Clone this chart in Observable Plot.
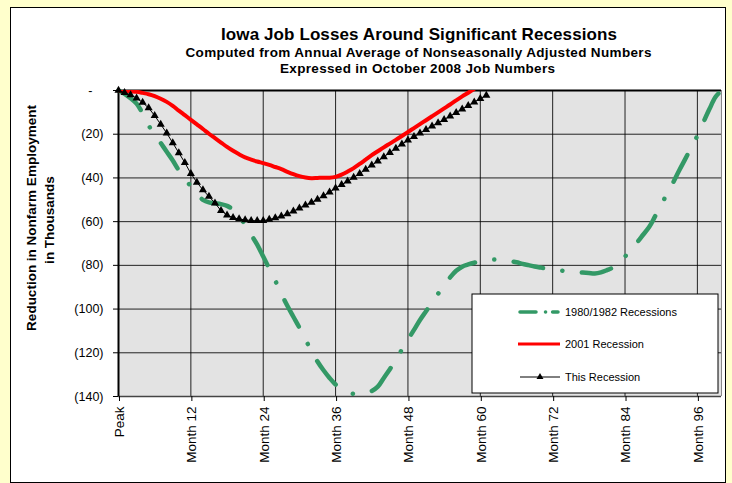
<!DOCTYPE html>
<html>
<head>
<meta charset="utf-8">
<script src="https://cdn.jsdelivr.net/npm/d3@7"></script>
<script src="https://cdn.jsdelivr.net/npm/@observablehq/plot@0.6"></script>
<style>
  html, body { margin: 0; padding: 0; background: #FFFFCC; }
  #wrap { position: relative; width: 732px; height: 483px; overflow: hidden; }
  #box { position: absolute; left: 10px; top: 7px; width: 714px; height: 474px; background: #fff; border: 1px solid #000; }
  #chart { position: absolute; left: 0; top: 0; }
  #overlay { position: absolute; left: 0; top: 0; }
</style>
</head>
<body>
<div id="wrap">
  <div id="box"></div>
  <div id="chart"></div>
  <svg id="overlay" width="732" height="483" font-family="Liberation Sans, Arial, sans-serif"></svg>
</div>
<script>
// ---- Data (thousands of jobs, relative to peak; index = months after peak) ----
const seriesNames = ["1980/1982 Recessions", "2001 Recession", "This Recession"];

const rec1980 = [
  0, -1.5, -3.5, -6, -10.5, -16, -20, -24, -28, -32,
  -36.5, -40, -44, -47.5, -50, -51.2, -51.6, -52, -52.8, -54.5,
  -57.5, -61.5, -66, -70.5, -76, -81.5, -87, -93, -98.5, -103.5,
  -108.5, -114, -119, -124, -128, -131.5, -134.5, -136.5, -138, -138.8,
  -139, -138.5, -137.5, -135.5, -131.5, -127.5, -123.3, -118.5, -114, -109.5,
  -105, -101, -97, -93, -89, -85.5, -82.5, -80.6, -79.6, -78.8,
  -78.2, -77.6, -77.3, -77.4, -77.8, -78.1, -78.6, -79.3, -79.9, -80.5,
  -81, -81.5, -81.9, -82.2, -82.6, -82.9, -83.1, -83.3, -83.5, -83.7,
  -83.2, -82.2, -81, -78.8, -76, -72.5, -69.5, -66, -62.5, -57.5,
  -52.4, -47, -42, -36.5, -31.3, -26, -20.7, -14.5, -8.5, -3, 0
];

const rec2001 = [
  0, -0.2, -0.4, -0.6, -1.1, -1.7, -2.6, -3.8, -5.2, -7,
  -9.2, -11.3, -13.4, -15.5, -17.6, -19.8, -21.8, -23.8, -25.8, -27.6,
  -29.2, -30.6, -31.6, -32.5, -33.2, -34, -35, -36, -37.2, -38.3,
  -39.2, -39.8, -40.1, -40, -39.9, -39.9, -39.5, -38.5, -37.1, -35.5,
  -33.6, -31.6, -29.6, -27.8, -26, -24.3, -22.6, -20.8, -19, -17.2,
  -15.4, -13.6, -11.8, -10, -8.2, -6.4, -4.5, -2.7, -1, 0.8
];

const recThis = [
  0, -1, -2, -3.5, -5.5, -8, -11.5, -15.5, -19.5, -24,
  -28.5, -33, -38, -42, -45.5, -48.5, -51.5, -55, -57, -58.2,
  -58.8, -59.2, -59.5, -59.6, -59.6, -59, -58.3, -57.5, -56.5, -55.2,
  -53.8, -52.5, -51.2, -49.8, -48.2, -46.5, -44.7, -43.1, -41.5, -39.8,
  -38, -36.1, -34.2, -32.3, -30.4, -28.4, -26.5, -24.6, -22.7, -21.1,
  -19.5, -17.9, -16.3, -14.8, -13.3, -11.7, -10.1, -8.5, -6.9, -5.3,
  -3.7, -2.2
];

const xTickMonths = [0, 12, 24, 36, 48, 60, 72, 84, 96];
const xTickLabels = ["Peak", "Month 12", "Month 24", "Month 36", "Month 48", "Month 60", "Month 72", "Month 84", "Month 96"];
const yTickValues = [0, -20, -40, -60, -80, -100, -120, -140];
const yTickLabels = ["-", "(20)", "(40)", "(60)", "(80)", "(100)", "(120)", "(140)"];

const titleText = "Iowa Job Losses Around Significant Recessions";
const subtitle1 = "Computed from Annual Average of Nonseasonally Adjusted Numbers";
const subtitle2 = "Expressed in October 2008 Job Numbers";
const yLabel1 = "Reduction in Nonfarm Employment";
const yLabel2 = "in Thousands";

// ---- Build tables ----
const toRows = arr => arr.map((v, i) => ({month: i, value: v}));
const d1980 = toRows(rec1980);
const d2001 = toRows(rec2001);
const dThis = toRows(recThis);

const colors = {green: "#339966", red: "#FF0000", black: "#000000"};
const font = "Liberation Sans, Arial, sans-serif";

const xFmt = d => xTickLabels[xTickMonths.indexOf(d)];
const yFmt = d => yTickLabels[yTickValues.indexOf(d)];

const chart = Plot.plot({
  width: 732,
  height: 483,
  marginLeft: 118,
  marginRight: 11,
  marginTop: 90,
  marginBottom: 87,
  style: {background: "transparent", fontFamily: font, color: "#000", overflow: "visible"},
  x: {domain: [0, 100]},
  y: {domain: [-140, 0]},
  marks: [
    Plot.frame({fill: "#e3e3e3", stroke: "none"}),
    Plot.gridY(yTickValues, {stroke: "#000", strokeOpacity: 0.85, strokeWidth: 1}),
    Plot.gridX(xTickMonths, {stroke: "#000", strokeOpacity: 0.85, strokeWidth: 1}),
    Plot.ruleY([0], {stroke: "#000", strokeWidth: 2}),
    Plot.ruleY([-140], {stroke: "#444", strokeWidth: 1.5}),
    Plot.ruleX([100], {stroke: "#888", strokeWidth: 1}),
    Plot.ruleX([0], {stroke: "#000", strokeWidth: 2}),
    Plot.axisX({ticks: xTickMonths, tickFormat: xFmt, tickRotate: -90, tickSize: 5, tickPadding: 5, fontSize: 13.5, label: null, dx: 1}),
    Plot.axisY({ticks: yTickValues.filter(d => d !== 0), tickFormat: yFmt, tickSize: 5, tickPadding: 10, fontSize: 12.5, label: null}),
    Plot.axisY({ticks: [0], tickFormat: yFmt, tickSize: 5, tickPadding: 21, fontSize: 12.5, label: null}),
    Plot.line(d1980, {x: "month", y: "value", stroke: colors.green, strokeWidth: 4.5, strokeLinecap: "round", strokeDasharray: "30,19.5,0.1,19.5", curve: "catmull-rom"}),
    Plot.line(d2001, {x: "month", y: "value", stroke: colors.red, strokeWidth: 4, curve: "catmull-rom", clip: true}),
    Plot.line(dThis, {x: "month", y: "value", stroke: colors.black, strokeWidth: 1}),
    Plot.dot(dThis, {x: "month", y: "value", symbol: "triangle", r: 3, fill: colors.black})
  ]
});
document.getElementById("chart").appendChild(chart);

// ---- Titles, axis title, legend (overlay) ----
const ov = d3.select("#overlay");
const t = (x, y, txt, size, len) => {
  const el = ov.append("text").attr("x", x).attr("y", y).attr("font-size", size)
    .attr("font-weight", "bold").attr("text-anchor", "middle").attr("fill", "#000").text(txt);
  if (len) el.attr("textLength", len).attr("lengthAdjust", "spacing");
  return el;
};
t(419, 40, titleText, 17, 396);
t(418.5, 56.5, subtitle1, 13.5, 466);
t(417.5, 72.5, subtitle2, 13.5, 275);
ov.append("text").attr("transform", "translate(36,218) rotate(-90)").attr("text-anchor", "middle")
  .attr("font-size", 13.5).attr("font-weight", "bold").text(yLabel1);
ov.append("text").attr("transform", "translate(54,220) rotate(-90)").attr("text-anchor", "middle")
  .attr("font-size", 13.5).attr("font-weight", "bold").text(yLabel2);

// legend
const lg = ov.append("g");
lg.append("rect").attr("x", 472).attr("y", 294).attr("width", 246).attr("height", 99)
  .attr("fill", "#fff").attr("stroke", "#000").attr("stroke-width", 1);
const rows = [312, 344, 377];
lg.append("line").attr("x1", 520).attr("x2", 558).attr("y1", rows[0]).attr("y2", rows[0])
  .attr("stroke", colors.green).attr("stroke-width", 3.5).attr("stroke-linecap", "round")
  .attr("stroke-dasharray", "16,9.5,0.1,7");
lg.append("line").attr("x1", 518).attr("x2", 560).attr("y1", rows[1]).attr("y2", rows[1])
  .attr("stroke", colors.red).attr("stroke-width", 3);
lg.append("line").attr("x1", 520).attr("x2", 560).attr("y1", rows[2]).attr("y2", rows[2])
  .attr("stroke", colors.black).attr("stroke-width", 1);
lg.append("path").attr("d", d3.symbol(d3.symbolTriangle, 21)()).attr("transform", `translate(540,${rows[2]})`).attr("fill", "#000");
seriesNames.forEach((n, i) => {
  lg.append("text").attr("x", 565).attr("y", rows[i] + 4).attr("font-size", 11).attr("fill", "#000").text(n);
});
</script>
</body>
</html>
